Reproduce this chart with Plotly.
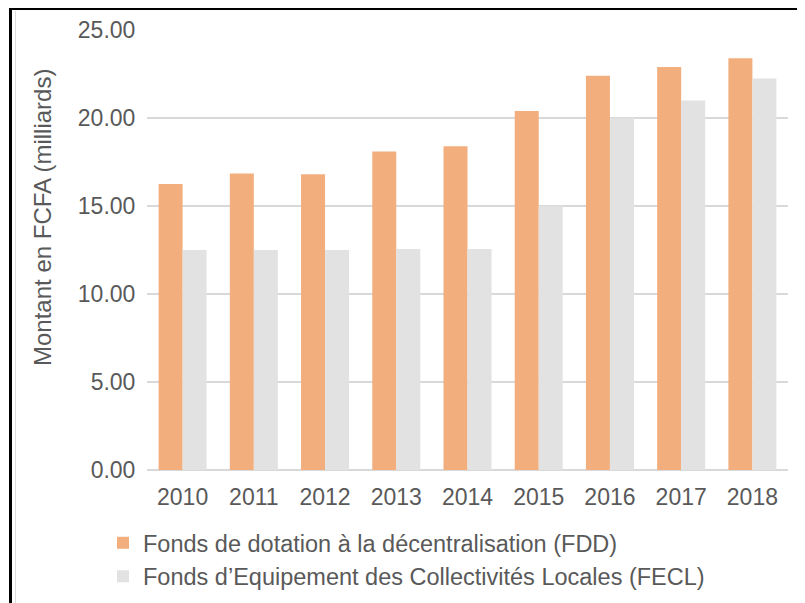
import plotly.graph_objects as go

years = ["2010", "2011", "2012", "2013", "2014", "2015", "2016", "2017", "2018"]
fdd = [16.25, 16.85, 16.8, 18.1, 18.4, 20.4, 22.4, 22.9, 23.4]
fecl = [12.5, 12.5, 12.5, 12.55, 12.55, 15.0, 20.0, 21.0, 22.25]
name_fdd = "Fonds de dotation à la décentralisation (FDD)"
name_fecl = "Fonds d’Equipement des Collectivités Locales (FECL)"
y_ticks = [0, 5, 10, 15, 20, 25]
y_ticklabels = ["0.00", "5.00", "10.00", "15.00", "20.00", "25.00"]

OFF = 8  # page body margin
W, H = 805 - OFF, 603 - OFF
# plot area in page pixels: x 147..788, y 30..470
L, T = 147 - OFF, 30 - OFF
R = W - (788 - OFF)
B = H - (470 - OFF)
pw, ph = W - L - R, H - T - B

def px_x(x):
    return (x - OFF - L) / pw

def px_y(y):
    return (H - B - (y - OFF)) / ph

font = "Liberation Sans, Arial, sans-serif"
grey = "#595959"
FS = 23

fig = go.Figure()
fig.add_trace(go.Bar(x=years, y=fdd, name=name_fdd, marker_color="#F2AE7C", marker_line_width=0))
fig.add_trace(go.Bar(x=years, y=fecl, name=name_fecl, marker_color="#E2E2E2", marker_line_width=0))

fig.update_layout(
    width=W, height=H,
    margin=dict(l=L, r=R, t=T, b=B, autoexpand=False),
    paper_bgcolor="white", plot_bgcolor="white",
    barmode="group", bargap=0.326, bargroupgap=0,
    font=dict(family=font, size=FS, color=grey),
    showlegend=True,
    legend=dict(orientation="v", x=px_x(103), y=px_y(521), xanchor="left", yanchor="top",
                font=dict(size=FS + 0.5, color=grey), bgcolor="rgba(0,0,0,0)",
                itemwidth=30, tracegroupgap=0),
    xaxis=dict(showgrid=False, showline=False, ticks="outside", ticklen=6, tickcolor="rgba(0,0,0,0)",
               tickfont=dict(size=FS, color=grey)),
    yaxis=dict(range=[0, 25], tickvals=y_ticks, ticktext=y_ticklabels,
               showgrid=True, gridcolor="#D9D9D9", gridwidth=1.5,
               zeroline=True, zerolinecolor="#D9D9D9", zerolinewidth=1.5,
               ticks="outside", ticklen=6, tickcolor="rgba(0,0,0,0)",
               tickfont=dict(size=FS, color=grey)),
    annotations=[dict(text="Montant en FCFA (milliards)", xref="paper", yref="paper",
                      x=px_x(42), y=px_y(218), textangle=-90, showarrow=False,
                      font=dict(size=FS + 1, color=grey), xanchor="center", yanchor="middle")],
    shapes=[
        dict(type="line", xref="paper", yref="paper", x0=px_x(10.5), x1=px_x(10.5), y0=px_y(8.5), y1=px_y(620),
             line=dict(color="black", width=3)),
        dict(type="line", xref="paper", yref="paper", x0=px_x(9), x1=px_x(820), y0=px_y(8.5), y1=px_y(8.5),
             line=dict(color="black", width=3)),
        dict(type="line", xref="paper", yref="paper", x0=px_x(15.5), x1=px_x(15.5), y0=px_y(11), y1=px_y(620),
             line=dict(color="#DDDDDD", width=1)),
    ],
)

fig.write_html("out.html")
